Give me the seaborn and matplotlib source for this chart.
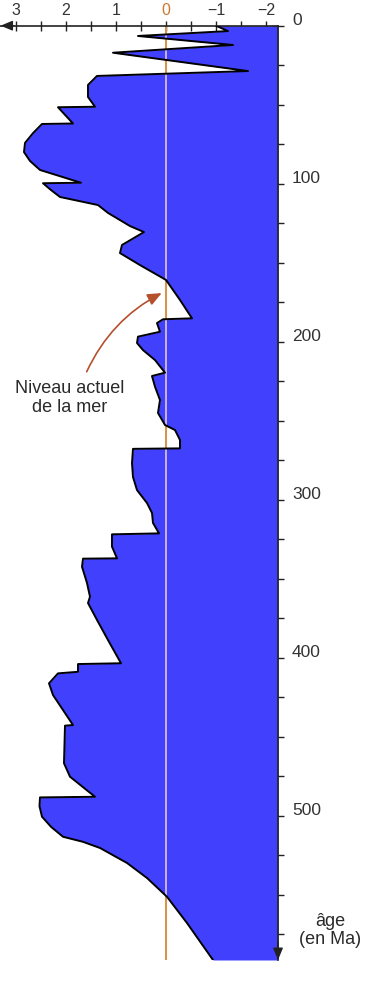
import numpy as np
import pandas as pd
import matplotlib
matplotlib.use("Agg")
import matplotlib.pyplot as plt
import seaborn as sns

# ---- data ----
ages = [0, 3.4, 6.5, 12.2, 17.1, 28.7, 31.8, 37.5, 45.1, 51.3, 51.6, 61.9, 62.2, 68.0, 74.2,
        80.0, 85.6, 91.3, 99.4, 99.7, 104.0, 108.4, 113.5, 118.5, 126.8, 130.6, 138.8,
        143.9, 151.5, 160.9, 173.6, 185.2, 185.8, 188.2, 193.7, 196.8, 200.8, 205.3,
        211.6, 219.6, 221.7, 228.5, 236.9, 245.1, 252.7, 255.9, 262.2, 267.5, 267.8,
        276.8, 285.6, 293.9, 302.1, 308.4, 314.7, 321.3, 321.9, 329.7, 337.1, 337.3,
        342.4, 352.7, 361.4, 365.4, 376.1, 388.8, 403.5, 404.0, 408.9, 409.9, 416.2,
        423.6, 442.6, 443.0, 466.8, 475.3, 488.0, 488.4, 494.0, 500.6, 507.0, 513.3,
        516.5, 520.4, 529.9, 539.4, 551.3, 567.9, 591.3]
levels = [-1.0, -1.24, 0.56, -1.34, 1.06, -1.64, 1.38, 1.56, 1.56, 1.42, 2.16, 1.86, 2.48,
          2.66, 2.82, 2.84, 2.72, 2.52, 1.70, 2.46, 2.30, 2.12, 1.36, 1.16, 0.72, 0.44,
          0.88, 0.92, 0.52, 0.0, -0.28, -0.52, 0.06, 0.18, 0.12, 0.56, 0.58, 0.46, 0.22,
          0.02, 0.28, 0.22, 0.12, 0.16, 0.02, -0.18, -0.28, -0.28, 0.66, 0.68, 0.66, 0.58,
          0.38, 0.28, 0.26, 0.14, 1.08, 1.08, 0.98, 1.66, 1.68, 1.58, 1.52, 1.56, 1.38,
          1.16, 0.90, 1.76, 1.76, 2.16, 2.34, 2.26, 1.86, 2.02, 2.04, 1.92, 1.42, 2.52,
          2.53, 2.48, 2.30, 2.06, 1.66, 1.32, 0.78, 0.38, -0.02, -0.42, -0.94]
level_ticks = [-2, -1.5, -1, -0.5, 0, 0.5, 1, 1.5, 2, 2.5, 3]
level_tick_labels = ["\u22122", "", "\u22121", "", "0", "", "1", "", "2", "", "3"]
age_ticks = list(range(0, 576, 25))
age_label_values = [0, 100, 200, 300, 400, 500]
age_label_texts = ["0", "100", "200", "300", "400", "500"]

sns.set_theme(style="white")
plt.rcParams["font.family"] = ["Liberation Sans", "DejaVu Sans"]

W, H = 381, 998
fig = plt.figure(figsize=(W / 100, H / 100), dpi=100)
fig.patch.set_facecolor("white")
top_px, bot_px, right_px = 25.7, 960, 278
ax = fig.add_axes([0, (H - bot_px) / H, right_px / W, (bot_px - top_px) / H])
ax.set_facecolor("none")
XL, XR = 3.32, -2.24
ax.set_xlim(XL, XR)
ax.set_ylim(591.3, 0)

df = pd.DataFrame({"age": ages, "level": levels})

# present sea level line
ax.axvline(0, color="#D4954F", lw=1.5, zorder=1)
fill = ax.fill_betweenx(df["age"], df["level"], XR, color="#4141FD", lw=0, zorder=2)
light = ax.axvline(0, color="#E2C6E0", lw=1.2, zorder=3)
light.set_clip_path(fill.get_paths()[0], ax.transData)

sns.lineplot(data=df, x="level", y="age", sort=False, estimator=None,
             color="black", lw=1.4, ax=ax, zorder=4)
ax.set_xlabel("")
ax.set_ylabel("")

axis_col = "#222222"
for s in ["left", "bottom"]:
    ax.spines[s].set_visible(False)
for s in ["top", "right"]:
    ax.spines[s].set_visible(True)
    ax.spines[s].set_color(axis_col)
    ax.spines[s].set_linewidth(1.2)

ax.xaxis.set_ticks_position("top")
ax.set_xticks(level_ticks)
ax.set_xticklabels(level_tick_labels)
ax.tick_params(axis="x", direction="inout", length=7.5, width=1, colors=axis_col,
               top=True, bottom=False, labeltop=True, labelbottom=False,
               pad=2, labelsize=11.5, labelcolor="#333333")
for lab in ax.get_xticklabels():
    if lab.get_text() == "0":
        lab.set_color("#D0782E")

ax.yaxis.set_ticks_position("right")
ax.set_yticks(age_ticks)
ax.set_yticklabels([])
ax.tick_params(axis="y", direction="inout", length=8.5, width=1, colors=axis_col,
               right=True, left=False, labelright=False, labelleft=False)
for v, t in zip(age_label_values, age_label_texts):
    ax.annotate(t, xy=(1, v), xycoords=("axes fraction", "data"),
                xytext=(10, 4), textcoords="offset points", ha="left", va="center",
                fontsize=12.5, color="#333333", annotation_clip=False)

# axis arrows
ax.annotate("", xy=(0.002, 1), xytext=(0.05, 1), xycoords="axes fraction",
            arrowprops=dict(arrowstyle="-|>,head_length=0.6,head_width=0.25",
                            color=axis_col, lw=1, shrinkA=0, shrinkB=0), annotation_clip=False)
ax.annotate("", xy=(1, 0), xytext=(1, 0.02), xycoords="axes fraction",
            arrowprops=dict(arrowstyle="-|>,head_length=0.6,head_width=0.25",
                            color=axis_col, lw=1, shrinkA=0, shrinkB=0), annotation_clip=False)

# annotation
ax.annotate("", xy=(0.086, 169.2), xytext=(1.586, 219.0),
            arrowprops=dict(arrowstyle="-|>,head_length=0.7,head_width=0.3",
                            connectionstyle="arc3,rad=-0.17", color="#B5502D",
                            lw=1.2, shrinkA=0, shrinkB=0))
ax.text(1.92, 235.6, "Niveau actuel\nde la mer", ha="center", va="center",
        ma="center", fontsize=13, color="#2a2a2a", linespacing=1.1)

ax.text(-3.28, 572.5, "âge\n(en Ma)", ha="center", va="center", ma="center",
        fontsize=13, color="#2a2a2a", linespacing=1.05, clip_on=False)

fig.savefig("out.png", dpi=100, facecolor="white")
